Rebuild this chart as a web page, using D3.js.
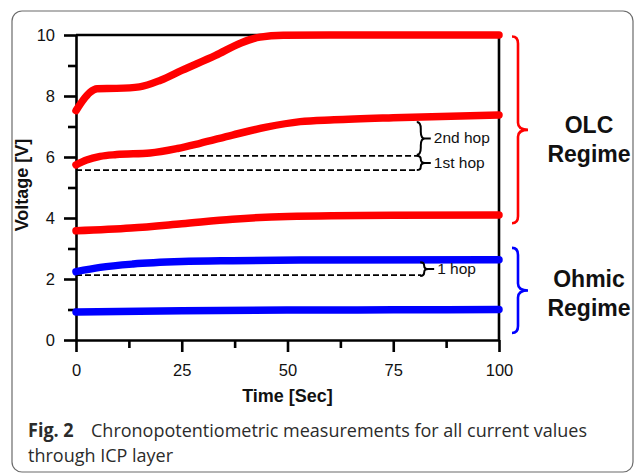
<!DOCTYPE html>
<html>
<head>
<meta charset="utf-8">
<script src="https://cdn.jsdelivr.net/npm/d3@7"></script>
<style>
  body { margin: 0; background: #fff; }
  svg { display: block; }
</style>
</head>
<body>
<svg id="chart"></svg>
<script>
// Voltage traces: [time (s), voltage (V)]
var olcTop = [[0,7.52],[1.7,7.87],[3.3,8.12],[5,8.24],[9.6,8.25],[15,8.3],[20,8.52],[25,8.84],[33,9.33],[39,9.74],[43.5,9.93],[49,9.99],[60,10],[80,10],[100,10]];
var olcMid = [[0,5.74],[2.5,5.9],[5.7,6.02],[9.6,6.08],[17.5,6.13],[24,6.28],[29.3,6.45],[37,6.72],[45,6.98],[53,7.16],[61,7.22],[75,7.29],[100,7.38]];
var olcLow = [[0,3.58],[13,3.67],[25,3.81],[37,3.96],[50,4.05],[75,4.09],[100,4.1]];
var ohmHigh = [[0,2.24],[5.7,2.38],[13.5,2.49],[25,2.57],[37,2.6],[53,2.62],[100,2.63]];
var ohmLow = [[0,0.92],[25,0.96],[50,0.98],[75,0.99],[100,1.0]];

// hop reference levels (dashed) and their labels
var hopLines = [
  {v: 5.57, t0: 0, t1: 80.8},
  {v: 6.04, t0: 24.6, t1: 80.8},
  {v: 2.13, t0: 0, t1: 81.6}
];
var hopBraces = [
  {t: 80.8, v0: 7.15, v1: 6.07, label: "2nd hop"},
  {t: 80.8, v0: 6.04, v1: 5.57, label: "1st hop"},
  {t: 81.6, v0: 2.55, v1: 2.1, label: "1 hop"}
];
var regimes = [
  {v0: 9.95, v1: 3.83, color: "#ff0000", lines: ["OLC", "Regime"]},
  {v0: 3.02, v1: 0.23, color: "#0000ff", lines: ["Ohmic", "Regime"]}
];

var xMajor = [0, 25, 50, 75, 100];
var xMinor = [12.5, 37.5, 62.5, 87.5];
var yMajor = [0, 2, 4, 6, 8, 10];
var yMinor = [1, 3, 5, 7, 9];

var W = 635, H = 474;
var svg = d3.select("#chart").attr("width", W).attr("height", H);

// card frame
svg.append("rect")
    .attr("x", 12).attr("y", 11)
    .attr("width", 621).attr("height", 461)
    .attr("rx", 10)
    .attr("fill", "#fff")
    .attr("stroke", "#6b6b6b")
    .attr("stroke-width", 1.2);

var x = d3.scaleLinear().domain([0, 100]).range([76, 499]);
var y = d3.scaleLinear().domain([0, 10]).range([340, 35]);

var axisFont = "'Liberation Sans', Arial, sans-serif";

// minor ticks first, no labels
svg.append("g")
    .attr("transform", "translate(0," + y(0) + ")")
    .call(d3.axisBottom(x).tickValues(xMinor).tickSize(8).tickSizeOuter(0).tickFormat(""))
    .call(g => g.select(".domain").remove());
svg.append("g")
    .attr("transform", "translate(" + x(0) + ",0)")
    .call(d3.axisLeft(y).tickValues(yMinor).tickSize(8).tickSizeOuter(0).tickFormat(""))
    .call(g => g.select(".domain").remove());

var xAxis = svg.append("g")
    .attr("transform", "translate(0," + y(0) + ")")
    .call(d3.axisBottom(x).tickValues(xMajor).tickSize(12).tickSizeOuter(0).tickPadding(12));
var yAxis = svg.append("g")
    .attr("transform", "translate(" + x(0) + ",0)")
    .call(d3.axisLeft(y).tickValues(yMajor).tickSize(12).tickSizeOuter(0).tickPadding(9));

svg.selectAll(".tick line").attr("stroke", "#000").attr("stroke-width", 2.6);
svg.selectAll(".domain").attr("stroke", "#000").attr("stroke-width", 2.6);
svg.selectAll(".tick text")
    .attr("font-family", axisFont)
    .attr("font-size", 16.5)
    .attr("fill", "#111");

// top and right frame of the plot
svg.append("line")
    .attr("x1", x(0)).attr("x2", x(100)).attr("y1", y(10)).attr("y2", y(10))
    .attr("stroke", "#000").attr("stroke-width", 2.6);
svg.append("line")
    .attr("x1", x(100)).attr("x2", x(100)).attr("y1", y(10)).attr("y2", y(0))
    .attr("stroke", "#000").attr("stroke-width", 2.6);

// dashed hop levels
svg.selectAll("line.hop")
    .data(hopLines)
    .join("line")
    .attr("class", "hop")
    .attr("x1", d => x(d.t0)).attr("x2", d => x(d.t1))
    .attr("y1", d => y(d.v)).attr("y2", d => y(d.v))
    .attr("stroke", "#000")
    .attr("stroke-width", 1.8)
    .attr("stroke-dasharray", "6,3");

// traces
var line = d3.line()
    .x(d => x(d[0]))
    .y(d => y(d[1]))
    .curve(d3.curveMonotoneX);

var series = [
  {data: olcTop, color: "#ff0000"},
  {data: olcMid, color: "#ff0000"},
  {data: olcLow, color: "#ff0000"},
  {data: ohmHigh, color: "#0000ff"},
  {data: ohmLow, color: "#0000ff"}
];
svg.selectAll("path.trace")
    .data(series)
    .join("path")
    .attr("class", "trace")
    .attr("d", d => line(d.data))
    .attr("fill", "none")
    .attr("stroke", d => d.color)
    .attr("stroke-width", 7.5)
    .attr("stroke-linecap", "round");

// curly brace pointing right
function bracePath(x0, xm, xp, y1, y2) {
  var ym = (y1 + y2) / 2;
  var q = Math.min(7, (y2 - y1) / 4);
  return "M" + x0 + "," + y1 +
    "Q" + xm + "," + y1 + " " + xm + "," + (y1 + q) +
    "L" + xm + "," + (ym - q) +
    "Q" + xm + "," + ym + " " + xp + "," + ym +
    "Q" + xm + "," + ym + " " + xm + "," + (ym + q) +
    "L" + xm + "," + (y2 - q) +
    "Q" + xm + "," + y2 + " " + x0 + "," + y2;
}

var hb = svg.selectAll("g.hopbrace")
    .data(hopBraces)
    .join("g")
    .attr("class", "hopbrace");
hb.append("path")
    .attr("d", d => {
      var bx = x(d.t);
      return bracePath(bx - 1, bx + 3, bx + 7, y(d.v0), y(d.v1)) +
        "M" + (bx + 7) + "," + ((y(d.v0) + y(d.v1)) / 2) + "h6";
    })
    .attr("fill", "none")
    .attr("stroke", "#000")
    .attr("stroke-width", 2);
hb.append("text")
    .attr("x", d => x(d.t) + 16)
    .attr("y", d => (y(d.v0) + y(d.v1)) / 2 + 5)
    .attr("font-family", axisFont)
    .attr("font-size", 15.5)
    .attr("fill", "#111")
    .text(d => d.label);

// regime braces and labels (label baselines set to where the figure has them)
var regimeLabelY = [133, 287];
var rg = svg.selectAll("g.regime")
    .data(regimes)
    .join("g")
    .attr("class", "regime");
rg.append("path")
    .attr("d", d => bracePath(512, 518, 528, y(d.v0), y(d.v1)))
    .attr("fill", "none")
    .attr("stroke", d => d.color)
    .attr("stroke-width", 2.6);
rg.each(function(d, k) {
  var t = d3.select(this).append("text")
      .attr("text-anchor", "middle")
      .attr("font-family", axisFont)
      .attr("font-weight", "bold")
      .attr("font-size", 23)
      .attr("fill", "#111");
  d.lines.forEach(function(s, i) {
    t.append("tspan")
        .attr("x", 589)
        .attr("y", regimeLabelY[k] + i * 28.5)
        .text(s);
  });
});

// axis titles
svg.append("text")
    .attr("x", (x(0) + x(100)) / 2)
    .attr("y", 402)
    .attr("text-anchor", "middle")
    .attr("font-family", axisFont)
    .attr("font-weight", "bold")
    .attr("font-size", 18)
    .attr("fill", "#111")
    .text("Time [Sec]");
svg.append("text")
    .attr("transform", "translate(28," + 185 + ") rotate(-90)")
    .attr("text-anchor", "middle")
    .attr("font-family", axisFont)
    .attr("font-weight", "bold")
    .attr("font-size", 18)
    .attr("fill", "#111")
    .text("Voltage [V]");

// caption: the journal face is a little narrower than Open Sans, so squeeze it
var capFont = "'Open Sans', 'Noto Sans', sans-serif";
var capParts = [
  {text: "Fig. 2", x: 28, y: 437, bold: true},
  {text: "Chronopotentiometric measurements for all current values", x: 91, y: 437, bold: false},
  {text: "through ICP layer", x: 28, y: 462, bold: false}
];
var capTexts = svg.selectAll("text.cap")
    .data(capParts)
    .join("text")
    .attr("class", "cap")
    .attr("x", d => d.x).attr("y", d => d.y)
    .attr("font-family", capFont)
    .attr("font-size", 19)
    .attr("font-weight", d => d.bold ? "bold" : "normal")
    .attr("fill", "#2b2b2b")
    .text(d => d.text);
var natural = capTexts.nodes()[1].getComputedTextLength();
var squeeze = Math.min(1, (587 - 91) / natural);
capTexts.each(function() {
  var w = this.getComputedTextLength();
  d3.select(this)
      .attr("textLength", w * squeeze)
      .attr("lengthAdjust", "spacingAndGlyphs");
});
</script>
</body>
</html>
